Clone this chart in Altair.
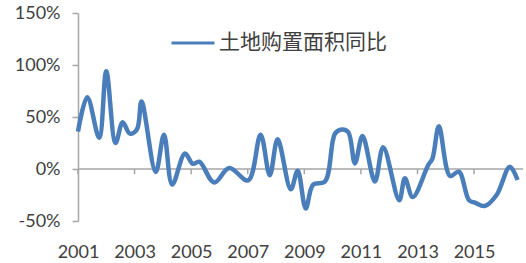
import altair as alt
import pandas as pd

series_name = "土地购置面积同比"

dates = [
    "2001-01-01", "2001-05-01", "2001-10-01", "2002-01-01", "2002-05-01",
    "2002-08-01", "2002-11-01", "2003-02-01", "2003-04-01", "2003-10-01",
    "2004-01-16", "2004-05-01", "2004-10-13", "2005-01-22", "2005-04-16",
    "2005-10-25", "2006-05-07", "2007-01-07", "2007-06-16", "2007-10-13",
    "2008-01-22", "2008-07-10", "2008-10-07", "2009-01-19", "2009-04-25",
    "2009-09-25", "2010-02-01", "2010-04-28", "2010-07-22", "2010-10-16",
    "2011-01-22", "2011-07-01",
    "2011-10-16", "2012-05-10", "2012-07-22", "2012-11-01", "2013-05-19",
    "2013-07-13", "2013-10-04", "2014-02-25", "2014-06-19", "2014-10-28",
    "2015-01-13", "2015-05-19", "2015-10-19", "2016-04-07", "2016-07-16",
]
values = [
    36, 69, 30, 94, 25,
    45, 34, 38, 65, -3,
    33, -15, 15, 5, 7,
    -13, 1, -11, 33, -6,
    28.5, -19.5, -1.6, -38, -15,
    -12, 34, 38, 35.5, 5.4,
    31.7, -12,
    21, -30, -9, -27, 3.8,
    10, 41, -6.7, -2.6, -30,
    -32.4, -35.6, -25, 2.2, -10.6,
]
tick_years = [2001, 2003, 2005, 2007, 2009, 2011, 2013, 2015]
y_ticks = [-50, 0, 50, 100, 150]

df = pd.DataFrame({"date": dates, "value": values, "series": series_name})
ticks_df = pd.DataFrame({"date": [f"{y}-01-01" for y in tick_years]})
zero_df = pd.DataFrame({"v": [0]})

GRAY = "#A6A6A6"
TEXT = "#404040"

x_scale = alt.Scale(
    type="utc",
    domain=[
        alt.DateTime(year=2001, month=1, date=1, utc=True),
        alt.DateTime(year=2016, month=9, date=24, utc=True),
    ],
)
y_scale = alt.Scale(domain=[-50, 150], nice=False, zero=False)

x_axis = alt.Axis(
    values=[alt.DateTime(year=y, month=1, date=1, utc=True) for y in tick_years],
    format="%Y", formatType="utc", domain=False, ticks=False, grid=False,
    labelFont="Lato", labelFontSize=18, labelColor=TEXT, labelPadding=22,
    title=None, labelFlush=False, labelOverlap=False,
)
y_axis = alt.Axis(
    values=y_ticks, labelExpr="datum.value + '%'", grid=False,
    domainColor=GRAY, domainWidth=1.5, tickColor=GRAY, tickWidth=1.5, tickSize=6,
    labelFont="Lato", labelFontSize=18, labelColor=TEXT, labelPadding=12,
    title=None,
)

zero = alt.Chart(zero_df).mark_rule(color=GRAY, strokeWidth=1.5).encode(
    y=alt.Y("v:Q", scale=y_scale, axis=y_axis)
)
ticks = alt.Chart(ticks_df).mark_rule(color=GRAY, strokeWidth=1.5).encode(
    x=alt.X("date:T", scale=x_scale, axis=x_axis),
    y=alt.datum(0),
    y2=alt.datum(-5),
)
line = alt.Chart(df).mark_line(interpolate="catmull-rom", strokeWidth=4.5).encode(
    x=alt.X("date:T", scale=x_scale, axis=x_axis),
    y=alt.Y("value:Q", scale=y_scale, axis=y_axis),
    color=alt.Color(
        "series:N",
        scale=alt.Scale(range=["#4A7EBB"]),
        legend=alt.Legend(
            orient="none", legendX=92, legendY=7, title=None,
            symbolType="stroke", symbolSize=1849, symbolStrokeWidth=3,
            labelFont="Noto Sans CJK SC", labelFontSize=21, labelColor=TEXT,
            labelOffset=3, padding=0, labelLimit=400,
        ),
    ),
)

chart = (
    alt.layer(zero, ticks, line)
    .properties(
        width=445, height=208, autosize="none",
        padding={"left": 78, "top": 13, "right": 3, "bottom": 42},
        background="white",
    )
    .configure_view(stroke=None)
)

chart.save("out.html", embed_options={"renderer": "svg", "actions": False})
